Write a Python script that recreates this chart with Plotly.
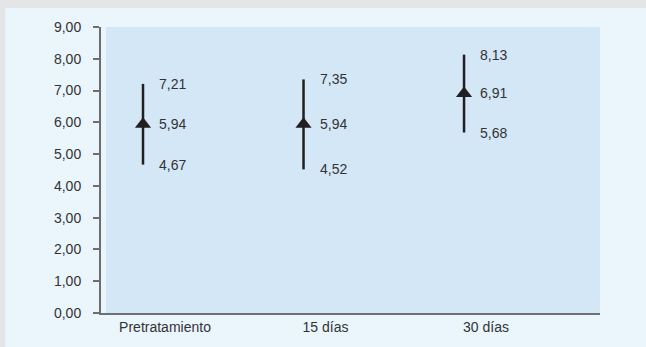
import plotly.graph_objects as go

# Treatment stages and their summary values (mean with upper/lower bounds)
categories = ["Pretratamiento", "15 días", "30 días"]
means = [5.94, 5.94, 6.91]
upper = [7.21, 7.35, 8.13]
lower = [4.67, 4.52, 5.68]
y_ticks = [0, 1, 2, 3, 4, 5, 6, 7, 8, 9]

INK = "#231f20"
AXIS = "#6d6e70"
TEXT = "#333335"
FONT = "Liberation Sans, Arial, sans-serif"
FS = 14


def fmt(v):
    return f"{v:.2f}".replace(".", ",")


x_idx = list(range(len(categories)))

fig = go.Figure(
    go.Scatter(
        x=x_idx,
        y=means,
        mode="markers",
        marker=dict(symbol="triangle-up", size=14, color=INK, line=dict(width=0)),
        error_y=dict(
            type="data",
            symmetric=False,
            array=[u - m for u, m in zip(upper, means)],
            arrayminus=[m - l for m, l in zip(means, lower)],
            thickness=2.5,
            width=0,
            color=INK,
        ),
        hoverinfo="skip",
        showlegend=False,
    )
)

# value labels to the right of each bar
annotations = []
for i in x_idx:
    for v in (upper[i], means[i], lower[i]):
        annotations.append(
            dict(
                x=i, y=v, xref="x", yref="y",
                text=fmt(v), showarrow=False,
                xanchor="left", yanchor="middle", xshift=14,
                font=dict(family=FONT, size=FS, color=TEXT),
            )
        )

W, H = 646, 347
ML, MR, MT, MB = 101, 46, 27, 34
pw, ph = W - ML - MR, H - MT - MB


def px_x(p):
    return (p - ML) / pw


def px_y(p):
    return (H - MB - p) / ph


shapes = [
    # light panel inside the grey frame
    dict(type="rect", xref="paper", yref="paper",
         x0=px_x(5), x1=px_x(W), y0=px_y(H), y1=px_y(8),
         fillcolor="#eaf5fc", line=dict(width=0), layer="below"),
    # plotting field
    dict(type="rect", xref="x domain", yref="y domain",
         x0=5 / pw, x1=1, y0=0, y1=1,
         fillcolor="#d3e7f6", line=dict(width=0), layer="below"),
]

fig.update_layout(
    width=W,
    height=H,
    margin=dict(l=ML, r=MR, t=MT, b=MB, pad=0),
    paper_bgcolor="#e4e5e6",
    plot_bgcolor="rgba(0,0,0,0)",
    separators=",.",
    font=dict(family=FONT, size=FS, color=TEXT),
    shapes=shapes,
    annotations=annotations,
    xaxis=dict(
        range=[-0.2617, 2.847],
        tickvals=x_idx,
        ticktext=categories,
        ticks="",
        ticklabelshift=22,
        showline=True,
        linecolor="#707072",
        linewidth=2,
        showgrid=False,
        zeroline=False,
        tickfont=dict(family=FONT, size=FS, color=TEXT),
    ),
    yaxis=dict(
        range=[0, 9],
        tickvals=y_ticks,
        tickformat=".2f",
        ticks="outside",
        ticklen=6,
        tickwidth=2,
        tickcolor=AXIS,
        showline=True,
        linecolor=AXIS,
        linewidth=2,
        showgrid=False,
        zeroline=False,
        ticklabelstandoff=9,
        tickfont=dict(family=FONT, size=FS, color=TEXT),
    ),
)

fig.write_html("out.html")
